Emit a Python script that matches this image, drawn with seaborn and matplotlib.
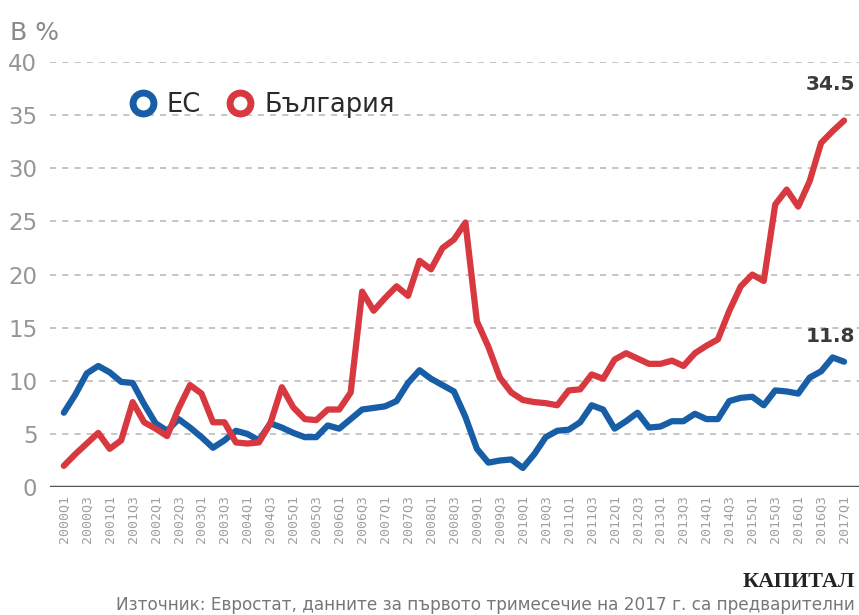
import numpy as np
import pandas as pd
import seaborn as sns
import matplotlib.pyplot as plt
from matplotlib.lines import Line2D

quarters = [f"{y}Q{q}" for y in range(2000, 2018) for q in range(1, 5)][:69]

eu = [7.0, 8.7, 10.7, 11.4, 10.8, 9.9, 9.8, 7.8, 6.0, 5.3,
      6.4, 5.6, 4.7, 3.7, 4.4, 5.3, 5.0, 4.4, 6.0, 5.6,
      5.1, 4.7, 4.7, 5.8, 5.5, 6.4, 7.3, 7.45, 7.6, 8.1,
      9.8, 11.0, 10.2, 9.6, 9.0, 6.6, 3.6, 2.3, 2.5, 2.6,
      1.8, 3.1, 4.7, 5.3, 5.4, 6.1, 7.7, 7.3, 5.5, 6.2,
      7.0, 5.6, 5.7, 6.2, 6.2, 6.9, 6.4, 6.4, 8.1, 8.4,
      8.5, 7.7, 9.1, 9.0, 8.8, 10.3, 10.9, 12.2, 11.8]

bg = [2.0, 3.1, 4.1, 5.1, 3.6, 4.4, 8.0, 6.1, 5.5, 4.8,
      7.4, 9.6, 8.8, 6.1, 6.1, 4.2, 4.1, 4.2, 6.0, 9.4,
      7.5, 6.4, 6.3, 7.3, 7.3, 8.9, 18.4, 16.6, 17.8, 18.9,
      18.0, 21.3, 20.5, 22.5, 23.3, 24.9, 15.6, 13.2, 10.3, 8.9,
      8.2, 8.0, 7.9, 7.7, 9.1, 9.2, 10.6, 10.2, 12.0, 12.6,
      12.1, 11.6, 11.6, 11.9, 11.4, 12.6, 13.3, 13.9, 16.6, 18.9,
      20.0, 19.4, 26.6, 28.0, 26.4, 28.8, 32.4, 33.5, 34.5]

series_names = ["ЕС", "България"]
colors = {"ЕС": "#175ea6", "България": "#d8383f"}

df = pd.DataFrame({
    "idx": list(range(len(quarters))) * 2,
    "val": eu + bg,
    "series": ["ЕС"] * len(eu) + ["България"] * len(bg),
})

sns.set_style("white")
plt.rcParams['font.family'] = ['DejaVu Sans']

fig = plt.figure(figsize=(8.59, 6.15), dpi=100)
ax = fig.add_axes([0.058, 0.208, 0.942, 0.691])

for y in range(5, 45, 5):
    ax.axhline(y, color="#b5b5b5", lw=1.1, ls=(0, (4, 4)), zorder=0)
ax.axhline(0, color="#555555", lw=2.5, zorder=1)

sns.lineplot(data=df, x="idx", y="val", hue="series", palette=colors,
             linewidth=4.5, legend=False, ax=ax, zorder=3)
for ln in ax.lines[-2:]:
    ln.set_solid_joinstyle("round")
    ln.set_solid_capstyle("round")

ax.set_xlim(-1.22, 69.3)
ax.set_ylim(0, 40)
for s in ax.spines.values():
    s.set_visible(False)

ax.set_yticks(range(0, 45, 5))
ax.set_yticklabels([str(v) for v in range(0, 45, 5)], fontsize=16.5, color="#969696")
ax.tick_params(axis="y", length=0, pad=9)
ax.set_xticks(range(0, len(quarters), 2))
ax.set_xticklabels(quarters[::2], rotation=90, fontsize=9.5, color="#a0a0a0",
                   family="DejaVu Sans Mono")
ax.tick_params(axis="x", length=0, pad=6)
ax.set_xlabel("")
ax.set_ylabel("")

handles = [Line2D([], [], ls="none", marker="o", markersize=15, markeredgewidth=5,
                  markerfacecolor="white", markeredgecolor=colors[n]) for n in series_names]
ax.legend(handles, series_names, loc="upper left", bbox_to_anchor=(0.067, 0.985),
          ncol=2, frameon=False, fontsize=18.5, handletextpad=0.35,
          columnspacing=0.9, handlelength=1.2, labelcolor="#2a2a2a")

ax.annotate("34.5", xy=(68, 34.5), xytext=(69.0, 37.4), ha="right", fontsize=14.5,
            fontweight="bold", color="#3a3a3a", annotation_clip=False)
ax.annotate("11.8", xy=(68, 11.8), xytext=(69.0, 13.7), ha="right", fontsize=14.5,
            fontweight="bold", color="#3a3a3a", annotation_clip=False)

fig.text(0.012, 0.935, "В %", fontsize=18, color="#8a8a8a")
fig.text(0.995, 0.045, "КАПИТАЛ", fontsize=16, fontweight="bold", ha="right",
         color="#222222", family="Liberation Serif")
fig.text(0.995, 0.008, "Източник: Евростат, данните за първото тримесечие на 2017 г. са предварителни",
         fontsize=12.2, ha="right", color="#777777")

fig.savefig("out.png", dpi=100)
